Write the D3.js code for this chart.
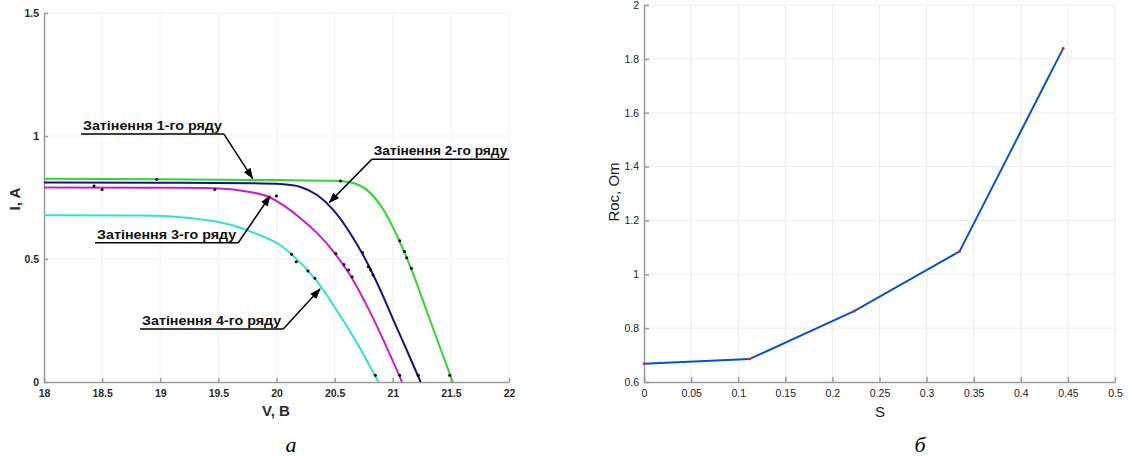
<!DOCTYPE html>
<html>
<head>
<meta charset="utf-8">
<title>I-V curves and Roc(S)</title>
<script src="https://cdnjs.cloudflare.com/ajax/libs/d3/7.8.5/d3.min.js"></script>
<style>
  body { margin: 0; background: #fff; }
  svg { display: block; font-family: "Liberation Sans", Arial, sans-serif; }
  .grid line { stroke: #ececec; stroke-width: 1; }
  .axis path, .axis line { stroke: #9a9a9a; stroke-width: 1.5; }
</style>
</head>
<body>
<svg id="svg" width="1132" height="456"></svg>
<script>
// ---- panel a: I-V curves (V, I) ----
const shade1 = [[18,0.826],[19,0.824],[20,0.821],[20.5,0.818],[20.63,0.812],[20.78,0.78],[20.92,0.70],[21.06,0.57],[21.163,0.455],[21.32,0.252],[21.516,0]];
const shade2 = [[18,0.811],[19,0.810],[19.8,0.808],[20.06,0.804],[20.2,0.794],[20.35,0.76],[20.49,0.699],[20.63,0.608],[20.78,0.485],[20.9,0.367],[21.0,0.258],[21.12,0.13],[21.24,0]];
const shade3 = [[18,0.791],[19,0.790],[19.38,0.789],[19.63,0.783],[19.77,0.772],[19.92,0.755],[20.06,0.718],[20.2,0.668],[20.35,0.605],[20.49,0.53],[20.63,0.437],[20.8,0.289],[20.95,0.139],[21.08,0]];
const shade4 = [[18,0.678],[18.8,0.677],[19.1,0.673],[19.4,0.658],[19.63,0.636],[19.8,0.607],[19.92,0.585],[20.03,0.557],[20.13,0.519],[20.33,0.42],[20.5,0.305],[20.7,0.152],[20.876,0]];
const measured = [[18.43,0.797],[18.5,0.783],[18.97,0.824],[19.47,0.783],[20.0,0.756],[20.55,0.817],
  [20.13,0.519],[20.17,0.489],[20.27,0.451],[20.33,0.422],
  [20.51,0.522],[20.58,0.478],[20.62,0.455],[20.65,0.428],
  [20.74,0.526],[20.79,0.469],[20.81,0.455],[20.83,0.435],
  [21.06,0.574],[21.1,0.53],[21.12,0.505],[21.16,0.462],
  [20.85,0.027],[21.06,0.027],[21.22,0.027],[21.49,0.027]];
const vTicks = [18,18.5,19,19.5,20,20.5,21,21.5,22];
const iTicks = [0,0.5,1,1.5];
// label, underline start V, underline end V, underline I, arrow tip V, arrow tip I
const notes = [
  ["Затінення 1-го ряду", 18.318, 19.548, 1.008, 19.794, 0.828],
  ["Затінення 2-го ряду", 20.819, 22.003, 0.905, 20.454, 0.730],
  ["Затінення 3-го ряду", 18.439, 19.671, 0.566, 19.944, 0.756],
  ["Затінення 4-го ряду", 18.826, 20.058, 0.215, 20.374, 0.378]
];

// ---- panel b: Roc vs S ----
const sVals = [0, 0.112, 0.223, 0.335, 0.445];
const rocVals = [0.668, 0.685, 0.863, 1.085, 1.839];
const sTicks = [0,0.05,0.1,0.15,0.2,0.25,0.3,0.35,0.4,0.45,0.5];
const rTicks = [0.6,0.8,1,1.2,1.4,1.6,1.8,2];

const svg = d3.select('#svg');

svg.append('defs').append('marker')
  .attr('id', 'arrow')
  .attr('markerUnits', 'userSpaceOnUse')
  .attr('markerWidth', 11).attr('markerHeight', 8)
  .attr('refX', 10).attr('refY', 4)
  .attr('orient', 'auto')
  .append('path').attr('d', 'M0,0 L11,4 L0,8 z').attr('fill', '#000');

// ===== panel a =====
const x1 = d3.scaleLinear().domain([18, 22]).range([44, 509]);
const y1 = d3.scaleLinear().domain([0, 1.5]).range([382, 13]);
const ga = svg.append('g');

const gridA = ga.append('g').attr('class', 'grid');
gridA.selectAll('.gx').data(vTicks.slice(1)).enter().append('line')
  .attr('x1', d => x1(d)).attr('x2', d => x1(d)).attr('y1', y1(0)).attr('y2', y1(1.5))
  .style('stroke', '#f2f2f2');
gridA.selectAll('.gy').data(iTicks.slice(1)).enter().append('line')
  .attr('x1', x1(18)).attr('x2', x1(22)).attr('y1', d => y1(d)).attr('y2', d => y1(d))
  .style('stroke', '#f2f2f2');

ga.append('g').attr('class', 'axis')
  .attr('transform', `translate(0,${y1(0)})`)
  .call(d3.axisBottom(x1).tickValues(vTicks).tickFormat(d => d).tickSize(-4).tickSizeOuter(0).tickPadding(8))
  .call(g => g.selectAll('text').attr('font-size', 10.5).attr('font-weight', 'bold').attr('fill', '#2a2a2a'));
ga.append('g').attr('class', 'axis')
  .attr('transform', `translate(${x1(18)},0)`)
  .call(d3.axisLeft(y1).tickValues(iTicks).tickFormat(d => d).tickSize(-4).tickSizeOuter(0).tickPadding(5))
  .call(g => g.selectAll('text').attr('font-size', 10.5).attr('font-weight', 'bold').attr('fill', '#2a2a2a'));

const lineA = d3.line().x(d => x1(d[0])).y(d => y1(d[1])).curve(d3.curveMonotoneX);
const series = [[shade1, '#2ed62e'], [shade2, '#15157a'], [shade3, '#c81ec8'], [shade4, '#30dede']];
ga.selectAll('.curve').data(series).enter().append('path')
  .attr('d', d => lineA(d[0]))
  .attr('fill', 'none').attr('stroke', d => d[1]).attr('stroke-width', 2);

ga.selectAll('.dot').data(measured).enter().append('circle')
  .attr('cx', d => x1(d[0])).attr('cy', d => y1(d[1])).attr('r', 1.5).attr('fill', '#000');

const noteG = ga.selectAll('.note').data(notes).enter().append('g');
noteG.append('line')
  .attr('x1', d => x1(d[1])).attr('x2', d => x1(d[2]))
  .attr('y1', d => y1(d[3])).attr('y2', d => y1(d[3]))
  .attr('stroke', '#000').attr('stroke-width', 1.5);
noteG.append('line')
  .attr('x1', d => d[4] > d[2] ? x1(d[2]) : x1(d[1]))
  .attr('y1', d => y1(d[3]))
  .attr('x2', d => x1(d[4])).attr('y2', d => y1(d[5]))
  .attr('stroke', '#000').attr('stroke-width', 1.5)
  .attr('marker-end', 'url(#arrow)');
noteG.append('text')
  .attr('x', d => x1(d[1]) + 2).attr('y', d => y1(d[3]) - 4)
  .attr('font-size', 12).attr('font-weight', 'bold').attr('fill', '#111')
  .attr('textLength', d => x1(d[2]) - x1(d[1]) - 4).attr('lengthAdjust', 'spacingAndGlyphs')
  .text(d => d[0]);

ga.append('text').attr('x', 276).attr('y', 416).attr('text-anchor', 'middle')
  .attr('font-size', 15).attr('font-weight', 'bold').attr('fill', '#2a2a2a').text('V, B');
ga.append('text').attr('transform', 'translate(20,199) rotate(-90)').attr('text-anchor', 'middle')
  .attr('font-size', 15).attr('font-weight', 'bold').attr('fill', '#2a2a2a').text('I, A');
ga.append('text').attr('x', 291).attr('y', 452).attr('text-anchor', 'middle')
  .attr('font-family', '"Liberation Serif", "Times New Roman", serif').attr('font-style', 'italic')
  .attr('font-size', 22).text('а');

// ===== panel b =====
const x2 = d3.scaleLinear().domain([0, 0.5]).range([644, 1115]);
const y2 = d3.scaleLinear().domain([0.6, 2]).range([382, 5]);
const gb = svg.append('g');

const gridB = gb.append('g').attr('class', 'grid');
gridB.selectAll('.gx').data(sTicks.slice(1)).enter().append('line')
  .attr('x1', d => x2(d)).attr('x2', d => x2(d)).attr('y1', y2(0.6)).attr('y2', y2(2));
gridB.selectAll('.gy').data(rTicks.slice(1)).enter().append('line')
  .attr('x1', x2(0)).attr('x2', x2(0.5)).attr('y1', d => y2(d)).attr('y2', d => y2(d));

gb.append('g').attr('class', 'axis')
  .attr('transform', `translate(0,${y2(0.6)})`)
  .call(d3.axisBottom(x2).tickValues(sTicks).tickFormat(d => +d.toFixed(2)).tickSize(-5).tickSizeOuter(0).tickPadding(8))
  .call(g => g.selectAll('text').attr('font-size', 10.5).attr('fill', '#1a1a1a'));
gb.append('g').attr('class', 'axis')
  .attr('transform', `translate(${x2(0)},0)`)
  .call(d3.axisLeft(y2).tickValues(rTicks).tickFormat(d => +d.toFixed(1)).tickSize(-5).tickSizeOuter(0).tickPadding(5))
  .call(g => g.selectAll('text').attr('font-size', 10.5).attr('fill', '#1a1a1a'));

const rocData = sVals.map((s, i) => [s, rocVals[i]]);
gb.append('path')
  .attr('d', d3.line().x(d => x2(d[0])).y(d => y2(d[1]))(rocData))
  .attr('fill', 'none').attr('stroke', '#0a52c4').attr('stroke-width', 2);
gb.selectAll('.pt').data(rocData).enter().append('circle')
  .attr('cx', d => x2(d[0])).attr('cy', d => y2(d[1])).attr('r', 1.4).attr('fill', '#e3261a');

gb.append('text').attr('x', 880).attr('y', 417).attr('text-anchor', 'middle')
  .attr('font-size', 15).attr('fill', '#1a1a1a').text('S');
gb.append('text').attr('transform', 'translate(619,192) rotate(-90)').attr('text-anchor', 'middle')
  .attr('font-size', 15).attr('fill', '#1a1a1a').text('Roc, Om');
gb.append('text').attr('x', 920).attr('y', 452).attr('text-anchor', 'middle')
  .attr('font-family', '"Liberation Serif", "Times New Roman", serif').attr('font-style', 'italic')
  .attr('font-size', 22).text('б');
</script>
</body>
</html>
